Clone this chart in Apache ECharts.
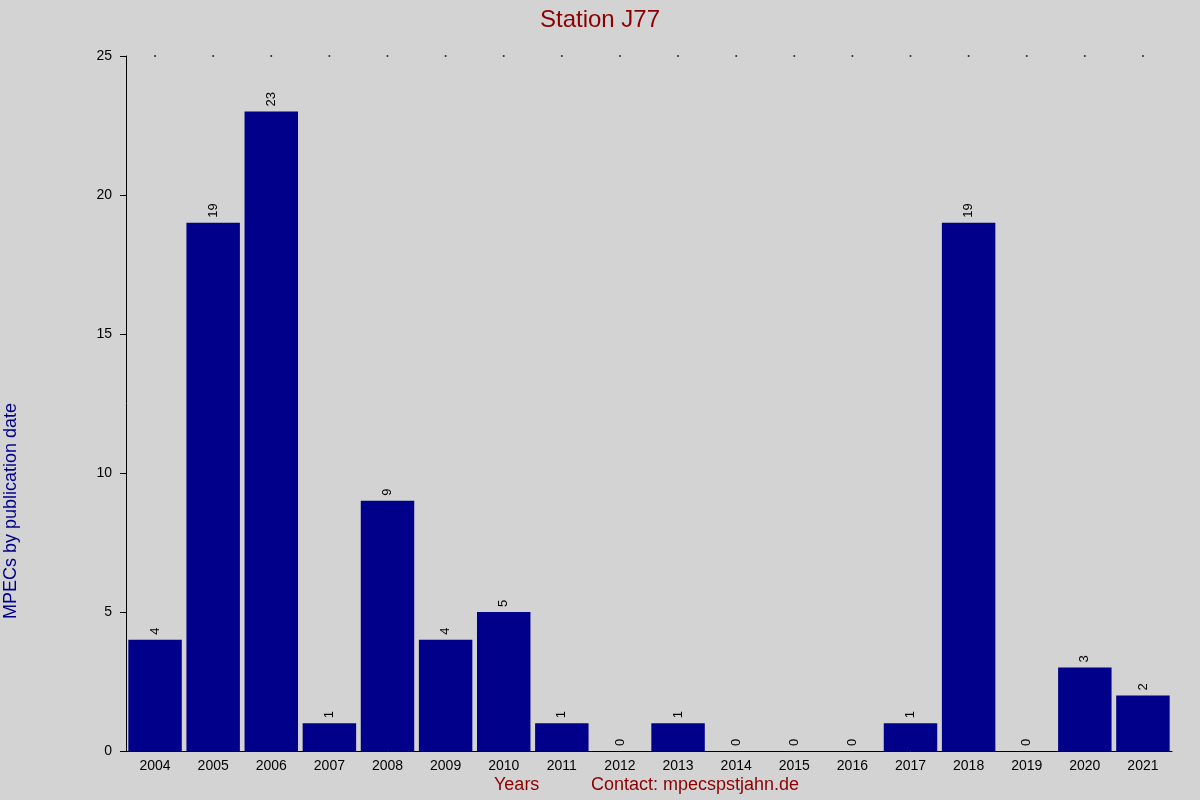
<!DOCTYPE html>
<html><head><meta charset="utf-8">
<script src="https://cdn.jsdelivr.net/npm/echarts@6/dist/echarts.min.js"></script>
<style>html,body{margin:0;background:#d3d3d3}#c{width:1200px;height:800px}</style>
</head><body><div id="c"></div>
<script>
const years = ['2004','2005','2006','2007','2008','2009','2010','2011','2012','2013','2014','2015','2016','2017','2018','2019','2020','2021'];
const counts = [4,19,23,1,9,4,5,1,0,1,0,0,0,1,19,0,3,2];
const yTicks = [0,5,10,15,20,25];
const topDots = years.map(() => 25);
const chart = echarts.init(document.getElementById('c'));
chart.setOption({
  backgroundColor: '#d3d3d3',
  animation: false,
  textStyle: {fontFamily: 'Liberation Sans, Arial, sans-serif'},
  title: {text: 'Station J77', left: 'center', top: 3,
    textStyle: {color: '#8b0000', fontSize: 24, fontWeight: 'normal'}},
  grid: {left: 126, right: 28, top: 56, bottom: 49},
  graphic: [
    {type: 'text', left: 494, top: 776, style: {text: 'Years', fill: '#8b0000', font: '18px Liberation Sans, Arial'}},
    {type: 'text', left: 591, top: 776, style: {text: 'Contact: mpecspstjahn.de', fill: '#8b0000', font: '18px Liberation Sans, Arial'}},
    {type: 'text', left: 2, top: 403, rotation: Math.PI/2, style: {text: 'MPECs by publication date', fill: '#00008b', font: '18px Liberation Sans, Arial', align: 'center', verticalAlign: 'middle'}, originX: 0, originY: 0}
  ],
  xAxis: {type: 'category', data: years,
    axisLine: {lineStyle: {color: '#000'}}, axisTick: {show: false},
    axisLabel: {color: '#000', fontSize: 14, margin: 8}},
  yAxis: {type: 'value', min: 0, max: 25, interval: 5,
    axisLine: {show: true, lineStyle: {color: '#000'}},
    axisTick: {show: true, length: 6, lineStyle: {color: '#000'}},
    splitLine: {show: false},
    axisLabel: {color: '#000', fontSize: 14, margin: 14}},
  series: [
    {type: 'bar', data: counts, barCategoryGap: '8%', itemStyle: {color: '#00008b'},
     label: {show: true, position: 'top', rotate: 90, align: 'left', verticalAlign: 'middle', distance: 5, color: '#000', fontSize: 13}},
    {type: 'scatter', data: topDots, symbol: 'circle', symbolSize: 2, itemStyle: {color: '#000'}, silent: true}
  ]
});
</script></body></html>
